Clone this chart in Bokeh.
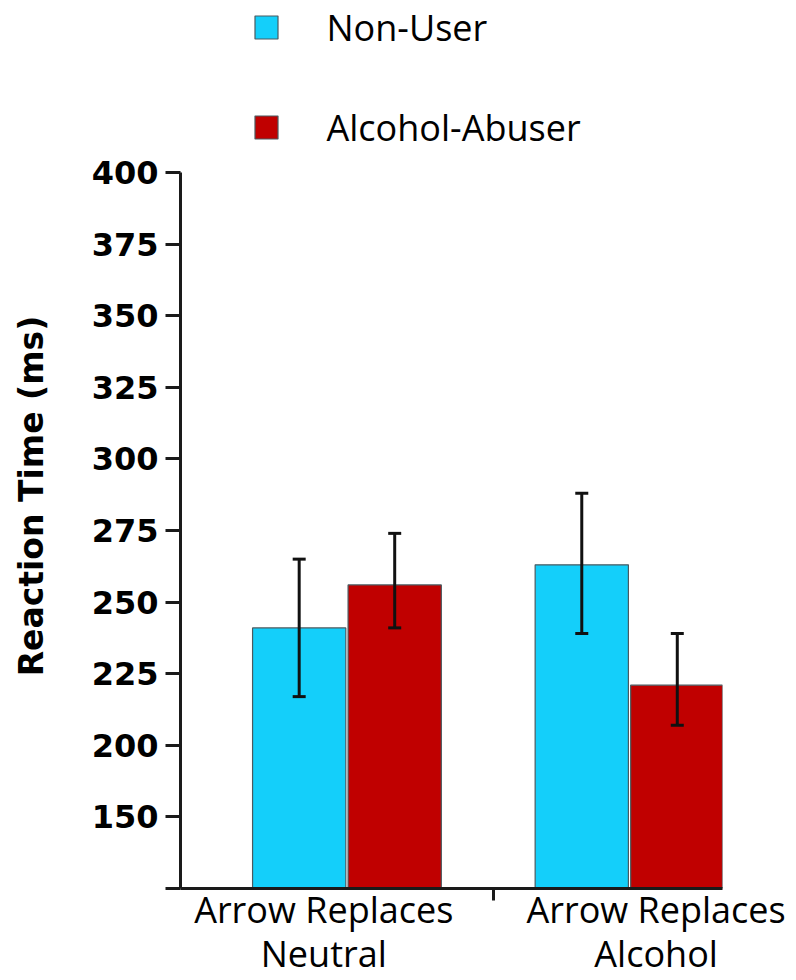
from bokeh.plotting import figure
from bokeh.layouts import column
from bokeh.models import (ColumnDataSource, Range1d, FixedTicker, Whisker, TeeHead)
from bokeh.core.properties import value
from bokeh.embed import file_html
from bokeh.resources import INLINE

# ---- data ----
groups = ["Arrow Replaces Neutral", "Arrow Replaces Alcohol"]
group_labels = ["Arrow Replaces\nNeutral", "Arrow Replaces\nAlcohol"]
series = ["Non-User", "Alcohol-Abuser"]
nonuser_mean = [241, 263]
nonuser_low = [217, 239]
nonuser_high = [265, 288]
abuser_mean = [256, 221]
abuser_low = [241, 207]
abuser_high = [274, 239]
y_ticks = [150, 175, 200, 225, 250, 275, 300, 325, 350, 375, 400]
y_tick_labels = ["", "150", "200", "225", "250", "275", "300", "325", "350", "375", "400"]
y_title = "Reaction Time (ms)"

# ---- style / layout ----
CYAN = "#14CFFA"
RED = "#C00000"
EDGE = "#4a5a60"
AXIS = "#1a1a1a"
COLORS = [CYAN, RED]
BAR_W = 0.33
DODGE = 0.169
LABEL_DX = [-0.082, 0.094]
SEP = 0.52

W = 796
LEG_H = 152
MAIN_H = 980 - LEG_H
FRAME_L, FRAME_R = 180, 722

# ---- legend strip (its own figure above the chart; frame aligned with chart) ----
pl = figure(width=W, height=LEG_H, output_backend="svg", toolbar_location=None,
            x_range=Range1d(FRAME_L, FRAME_R), y_range=Range1d(LEG_H, 0),
            x_axis_type=None, y_axis_type=None,
            min_border_left=FRAME_L, min_border_right=W - FRAME_R,
            min_border_top=0, min_border_bottom=0)
pl.outline_line_color = None
pl.xgrid.visible = False
pl.ygrid.visible = False
leg_src = ColumnDataSource(dict(x=[266, 266], y=[27, 127], tx=[326, 326],
                                label=series, color=COLORS))
pl.rect(x="x", y="y", width=23, height=23, source=leg_src,
        fill_color="color", line_color=EDGE, line_width=1.2)
pl.text(x="tx", y="y", text="label", source=leg_src, text_font=value("Open Sans"),
        text_font_size="36px", text_color="black", text_baseline="middle",
        text_align="left")

# ---- main chart ----
p = figure(width=W, height=MAIN_H, output_backend="svg", toolbar_location=None,
           x_range=Range1d(-0.589, 1.329), y_range=Range1d(150, 400),
           min_border_left=FRAME_L, min_border_right=W - FRAME_R,
           min_border_top=172 - LEG_H, min_border_bottom=92)
p.outline_line_color = None
p.xgrid.visible = False
p.ygrid.visible = False

idx = list(range(len(groups)))
src_nu = ColumnDataSource(dict(x=[i - DODGE for i in idx], top=nonuser_mean,
                               lower=nonuser_low, upper=nonuser_high))
src_ab = ColumnDataSource(dict(x=[i + DODGE for i in idx], top=abuser_mean,
                               lower=abuser_low, upper=abuser_high))

p.vbar(x="x", top="top", bottom=150, width=BAR_W, source=src_nu,
       fill_color=CYAN, line_color=EDGE, line_width=1.2)
p.vbar(x="x", top="top", bottom=150, width=BAR_W, source=src_ab,
       fill_color=RED, line_color=EDGE, line_width=1.2)

for src in (src_nu, src_ab):
    w = Whisker(source=src, base="x", upper="upper", lower="lower",
                line_color="#111111", line_width=3, level="overlay",
                upper_head=TeeHead(size=13, line_width=3, line_color="#111111"),
                lower_head=TeeHead(size=13, line_width=3, line_color="#111111"))
    p.add_layout(w)

# y axis
yax = p.yaxis[0]
yax.ticker = FixedTicker(ticks=y_ticks)
yax.major_label_overrides = {t: l for t, l in zip(y_ticks, y_tick_labels)}
yax.major_label_text_font = "DejaVu Sans"
yax.major_label_text_font_style = "bold"
yax.major_label_text_font_size = "32px"
yax.major_label_text_color = "black"
yax.major_label_standoff = 7
yax.major_tick_out = 15
yax.major_tick_in = 0
yax.minor_tick_out = 0
yax.minor_tick_in = 0
yax.axis_line_width = 3
yax.axis_line_color = AXIS
yax.major_tick_line_width = 3
yax.major_tick_line_color = AXIS
yax.axis_label = "\u00a0" * 6 + y_title
yax.axis_label_text_font = "DejaVu Sans"
yax.axis_label_text_font_style = "bold"
yax.axis_label_text_font_size = "33px"
yax.axis_label_text_color = "black"
yax.axis_label_standoff = 38

# x axis: category labels as tick labels, separator as minor tick
xax = p.xaxis[0]
xax.ticker = FixedTicker(ticks=[i + LABEL_DX[i] for i in idx], minor_ticks=[SEP])
xax.major_label_overrides = {i + LABEL_DX[i]: group_labels[i] for i in idx}
xax.major_label_text_font = "Open Sans"
xax.major_label_text_font_size = "36px"
xax.major_label_text_color = "black"
xax.major_label_text_line_height = 0.9
xax.major_label_standoff = -16
xax.major_tick_out = 0
xax.major_tick_in = 0
xax.major_tick_line_color = None
xax.minor_tick_out = 12
xax.minor_tick_in = 0
xax.minor_tick_line_width = 3
xax.minor_tick_line_color = AXIS
xax.axis_line_width = 3
xax.axis_line_color = AXIS

layout = column(pl, p, spacing=0)
open("out.html", "w").write(file_html(layout, INLINE))
